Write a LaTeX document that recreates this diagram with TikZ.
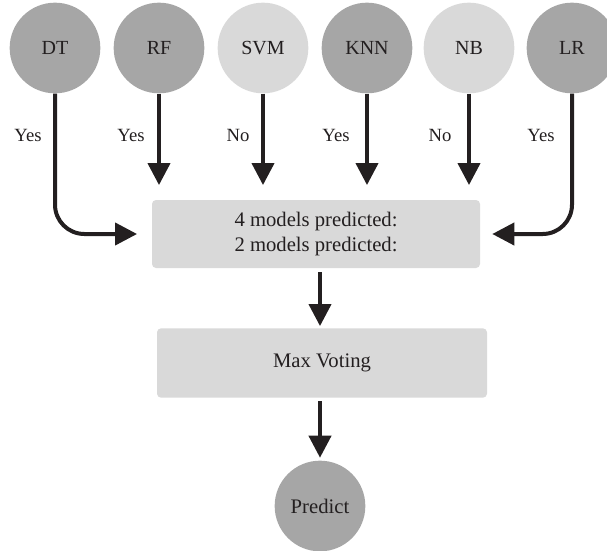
\documentclass[tikz,border=0pt]{standalone}
\usepackage{fontspec}
\setmainfont{Liberation Serif}
\usetikzlibrary{arrows.meta}
\definecolor{darkfill}{HTML}{A6A6A6}
\definecolor{lightfill}{HTML}{D9D9D9}
\definecolor{ink}{HTML}{231F20}
\tikzset{
  model/.style={circle, minimum size=68pt, inner sep=0pt, text=ink, font=\fontsize{15}{18}\selectfont},
  darkmodel/.style={model, fill=darkfill},
  lightmodel/.style={model, fill=lightfill},
  panel/.style={rectangle, rounded corners=3pt, fill=lightfill, inner sep=0pt, text=ink, font=\fontsize{15.5}{19}\selectfont, align=center},
  arr/.style={draw=ink, line width=3pt, -{Triangle[width=16.5pt,length=16.5pt]}},
  vote/.style={text=ink, font=\fontsize{14}{16}\selectfont}
}
\begin{document}
\begin{tikzpicture}[x=0.75pt,y=-0.75pt]
\useasboundingbox (0,0) rectangle (607,550);
% classifiers
\node[darkmodel]  (DT)  at (55,48)  {DT};
\node[darkmodel]  (RF)  at (159,48) {RF};
\node[lightmodel] (SVM) at (263,48) {SVM};
\node[darkmodel]  (KNN) at (367,48) {KNN};
\node[lightmodel] (NB)  at (469,48) {NB};
\node[darkmodel]  (LR)  at (572,48) {LR};
% aggregation stages
\node[panel, minimum width=246pt, minimum height=51pt] (agg) at (316,234)
  {4 models predicted:\\2 models predicted:};
\node[panel, minimum width=247.5pt, minimum height=52pt] (max) at (322,363) {Max Voting};
\node[darkmodel, font=\fontsize{15.5}{18}\selectfont] (pred) at (320,506) {Predict};
% votes
\node[vote] (vDT)  at (28,135)  {Yes};
\node[vote] (vRF)  at (131,135) {Yes};
\node[vote] (vSVM) at (238,135) {No};
\node[vote] (vKNN) at (336,135) {Yes};
\node[vote] (vNB)  at (440,135) {No};
\node[vote] (vLR)  at (541,135) {Yes};
% connectors
\draw[arr, shorten >=11pt] (RF.south) -- (RF.south |- agg.north);
\draw[arr, shorten >=11pt] (SVM.south) -- (SVM.south |- agg.north);
\draw[arr, shorten >=11pt] (KNN.south) -- (KNN.south |- agg.north);
\draw[arr, shorten >=11pt] (NB.south) -- (NB.south |- agg.north);
\draw[arr, rounded corners=22pt, shorten >=11pt] (DT.south) |- (agg.west);
\draw[arr, rounded corners=22pt, shorten >=9pt] (LR.south) |- (agg.east);
\draw[arr, shorten <=3pt, shorten >=1.5pt] (agg.south -| pred.north) -- (max.north -| pred.north);
\draw[arr, shorten <=2.5pt, shorten >=2pt] (max.south -| pred.north) -- (pred.north);
\end{tikzpicture}
\end{document}
